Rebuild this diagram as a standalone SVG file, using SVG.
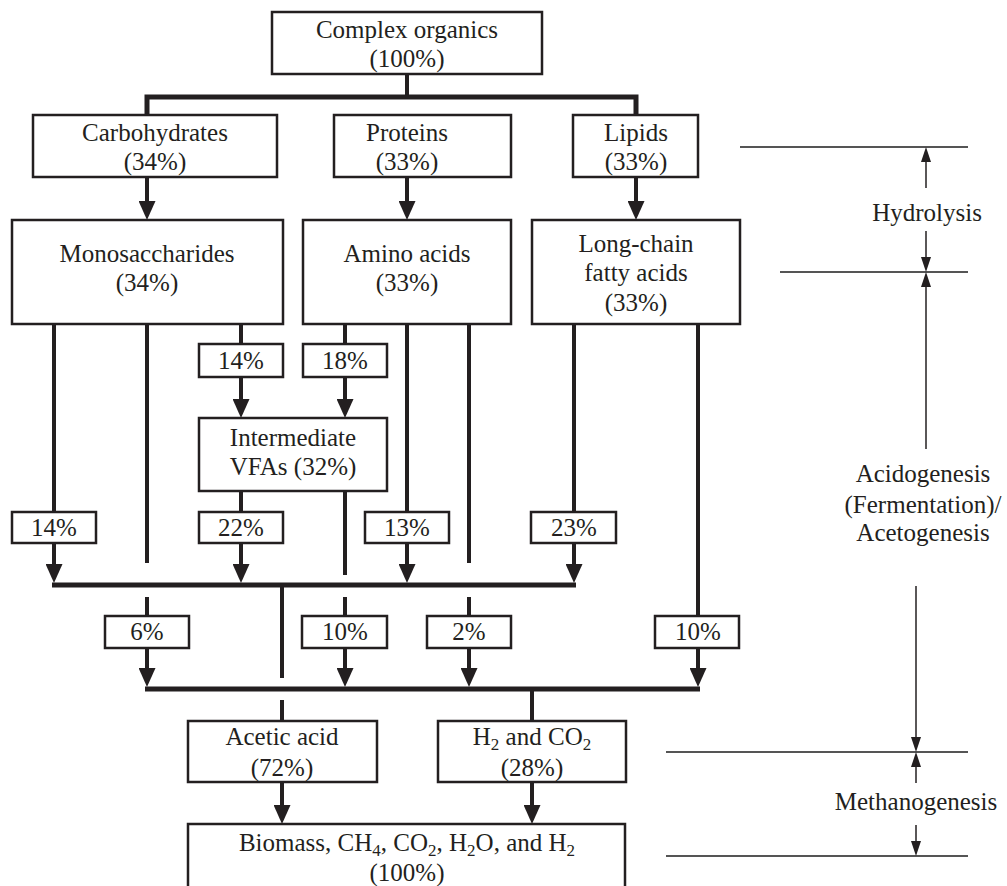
<svg xmlns="http://www.w3.org/2000/svg" width="1007" height="886" viewBox="0 0 1007 886">
<style>
.box{fill:#fff;stroke:#231f20;stroke-width:2.5}
text{font-family:"Liberation Serif","Times New Roman",serif;font-size:25px;fill:#231f20;text-anchor:middle}
.c{fill:none;stroke:#231f20;stroke-width:4}
.bar{fill:none;stroke:#231f20;stroke-width:5}
.ref{fill:none;stroke:#555;stroke-width:2}
.ann{fill:none;stroke:#231f20;stroke-width:1.5}
.sub{font-size:17px}
</style>
<defs>
<marker id="ah" viewBox="0 0 19 17" refX="0" refY="8.5" markerWidth="19" markerHeight="17" markerUnits="userSpaceOnUse" orient="auto"><path d="M0,0 L19,8.5 L0,17 z" fill="#231f20"/></marker>
<marker id="sa" viewBox="0 0 15 10" refX="0" refY="5" markerWidth="15" markerHeight="10" markerUnits="userSpaceOnUse" orient="auto"><path d="M0,0 L15,5 L0,10 z" fill="#231f20"/></marker>
</defs>
<rect width="1007" height="886" fill="#fff"/>
<g id="connectors">
<path class="c" d="M407,74 V97"/>
<path class="bar" d="M147,115 V97 H636 V115"/>
<path class="c" d="M147,178 V201" marker-end="url(#ah)"/>
<path class="c" d="M407,178 V201" marker-end="url(#ah)"/>
<path class="c" d="M636,178 V201" marker-end="url(#ah)"/>
<path class="c" d="M54,324 V512"/>
<path class="c" d="M54,543 V564" marker-end="url(#ah)"/>
<path class="c" d="M147,324 V563"/>
<path class="c" d="M147,597 V616"/>
<path class="c" d="M147,648 V668" marker-end="url(#ah)"/>
<path class="c" d="M241,324 V344"/>
<path class="c" d="M241,377 V399" marker-end="url(#ah)"/>
<path class="c" d="M345,324 V344"/>
<path class="c" d="M345,377 V399" marker-end="url(#ah)"/>
<path class="c" d="M407,324 V512"/>
<path class="c" d="M407,543 V564" marker-end="url(#ah)"/>
<path class="c" d="M469,324 V563"/>
<path class="c" d="M469,597 V616"/>
<path class="c" d="M469,648 V668" marker-end="url(#ah)"/>
<path class="c" d="M241,491 V512"/>
<path class="c" d="M241,543 V564" marker-end="url(#ah)"/>
<path class="c" d="M345,491 V575"/>
<path class="c" d="M345,597 V616"/>
<path class="c" d="M345,648 V668" marker-end="url(#ah)"/>
<path class="c" d="M574,324 V512"/>
<path class="c" d="M574,543 V564" marker-end="url(#ah)"/>
<path class="c" d="M698,324 V616"/>
<path class="c" d="M698,648 V668" marker-end="url(#ah)"/>
<path class="bar" d="M52,585 H576"/>
<path class="c" d="M282,585 V678"/>
<path class="c" d="M282,700 V721"/>
<path class="bar" d="M145,689 H700"/>
<path class="c" d="M532,689 V721"/>
<path class="c" d="M282,782 V805" marker-end="url(#ah)"/>
<path class="c" d="M532,782 V805" marker-end="url(#ah)"/>
</g>
<g id="complex"><rect class="box" x="272" y="12" width="270" height="62"/><text x="407" y="38">Complex organics</text><text x="407" y="67">(100%)</text></g>
<g id="carbohydrates"><rect class="box" x="33" y="115" width="244" height="62"/><text x="155" y="141">Carbohydrates</text><text x="155" y="170">(34%)</text></g>
<g id="proteins"><rect class="box" x="334" y="115" width="177" height="62"/><text x="407" y="141">Proteins</text><text x="407" y="170">(33%)</text></g>
<g id="lipids"><rect class="box" x="573" y="115" width="125" height="62"/><text x="636" y="141">Lipids</text><text x="636" y="170">(33%)</text></g>
<g id="monosaccharides"><rect class="box" x="12" y="220" width="271" height="104"/><text x="147" y="262">Monosaccharides</text><text x="147" y="291">(34%)</text></g>
<g id="aminoacids"><rect class="box" x="303" y="220" width="208" height="104"/><text x="407" y="262">Amino acids</text><text x="407" y="291">(33%)</text></g>
<g id="lcfa"><rect class="box" x="532" y="220" width="208" height="104"/><text x="636" y="252">Long-chain</text><text x="636" y="281">fatty acids</text><text x="636" y="311">(33%)</text></g>
<g id="p14a"><rect class="box" x="199" y="344" width="84" height="33"/><text x="241" y="369">14%</text></g>
<g id="p18"><rect class="box" x="303" y="344" width="84" height="33"/><text x="345" y="369">18%</text></g>
<g id="intermediate"><rect class="box" x="199" y="418" width="188" height="73"/><text x="293" y="446">Intermediate</text><text x="293" y="475">VFAs (32%)</text></g>
<g id="p14b"><rect class="box" x="12" y="512" width="84" height="31"/><text x="54" y="536">14%</text></g>
<g id="p22"><rect class="box" x="199" y="512" width="84" height="31"/><text x="241" y="536">22%</text></g>
<g id="p13"><rect class="box" x="365" y="512" width="84" height="31"/><text x="407" y="536">13%</text></g>
<g id="p23"><rect class="box" x="531" y="512" width="85" height="31"/><text x="574" y="536">23%</text></g>
<g id="p6"><rect class="box" x="105" y="616" width="84" height="32"/><text x="147" y="640">6%</text></g>
<g id="p10a"><rect class="box" x="302" y="616" width="85" height="32"/><text x="345" y="640">10%</text></g>
<g id="p2"><rect class="box" x="427" y="616" width="84" height="32"/><text x="469" y="640">2%</text></g>
<g id="p10b"><rect class="box" x="655" y="616" width="84" height="32"/><text x="698" y="640">10%</text></g>
<g id="acetic"><rect class="box" x="188" y="721" width="189" height="61"/><text x="282" y="745">Acetic acid</text><text x="282" y="776">(72%)</text></g>
<g id="h2co2"><rect class="box" x="438" y="721" width="188" height="61"/><text x="532" y="745">H<tspan class="sub" dy="5">2</tspan><tspan dy="-5"> and CO</tspan><tspan class="sub" dy="5">2</tspan></text><text x="532" y="776">(28%)</text></g>
<g id="products"><rect class="box" x="188" y="824" width="437" height="70"/><text x="407" y="851">Biomass, CH<tspan class="sub" dy="5">4</tspan><tspan dy="-5">, CO</tspan><tspan class="sub" dy="5">2</tspan><tspan dy="-5">, H</tspan><tspan class="sub" dy="5">2</tspan><tspan dy="-5">O, and H</tspan><tspan class="sub" dy="5">2</tspan></text><text x="407" y="881">(100%)</text></g>
<g id="stages">
<path class="ref" d="M740,147 H968"/>
<path class="ref" d="M780,272 H968"/>
<path class="ref" d="M666,752 H968"/>
<path class="ref" d="M666,856 H968"/>
<path class="ann" d="M926,188 V162" marker-end="url(#sa)"/>
<path class="ann" d="M926,231 V257" marker-end="url(#sa)"/>
<path class="ann" d="M926,449 V287" marker-end="url(#sa)"/>
<path class="ann" d="M916,586 V737" marker-end="url(#sa)"/>
<path class="ann" d="M916,783 V767" marker-end="url(#sa)"/>
<path class="ann" d="M916,825 V841" marker-end="url(#sa)"/>
<text x="927" y="221">Hydrolysis</text>
<text x="923" y="482">Acidogenesis</text>
<text x="923" y="513">(Fermentation)/</text>
<text x="923" y="541">Acetogenesis</text>
<text x="916" y="810">Methanogenesis</text>
</g>
</svg>
